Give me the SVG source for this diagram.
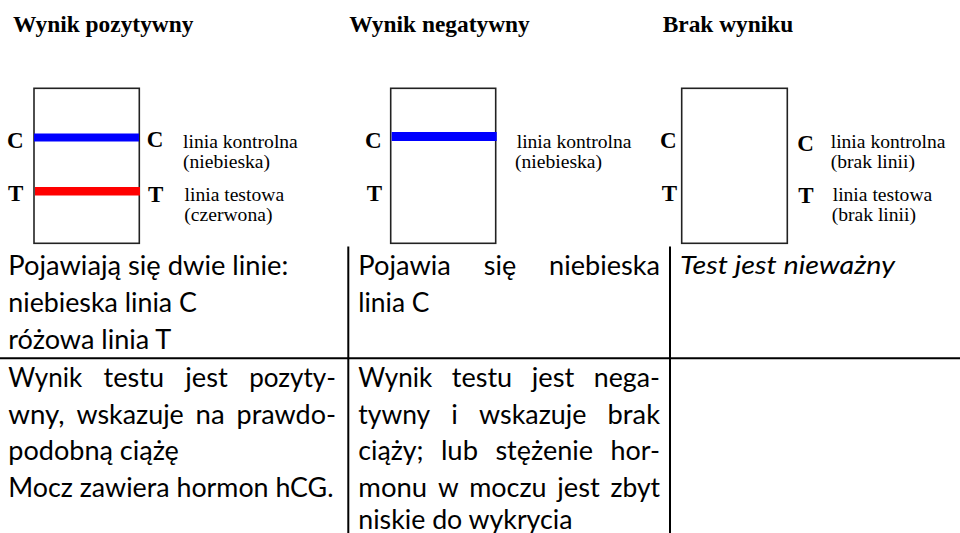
<svg xmlns="http://www.w3.org/2000/svg" width="960" height="533" viewBox="0 0 960 533">
  <style>
    .title { font-family: "Liberation Serif", "Times New Roman", serif; font-weight: bold; font-size: 23.4px; fill: #000; }
    .mark  { font-family: "Liberation Serif", "Times New Roman", serif; font-weight: bold; font-size: 23px; fill: #000; }
    .lbl   { font-family: "Liberation Serif", "Times New Roman", serif; font-size: 19.6px; fill: #000; }
    .body  { font-family: Lato, "Liberation Sans", sans-serif; font-size: 26px; fill: #000; }
    .ital  { font-style: italic; }
    .strip { fill: #fff; stroke: #222; stroke-width: 1.6; }
    .grid  { stroke: #000; stroke-width: 2; fill: none; }
  </style>
  <rect width="960" height="533" fill="#fff"/>

  <!-- Positive result: two lines -->
  <g id="positive">
    <text class="title" x="13" y="31.5">Wynik pozytywny</text>
    <rect class="strip" x="34" y="88.3" width="105.3" height="155"/>
    <rect x="34" y="133.5" width="105" height="8" fill="#0000ff"/>
    <rect x="35" y="187" width="105" height="8.5" fill="#ff0000"/>
    <text class="mark" x="7" y="148">C</text>
    <text class="mark" x="8" y="201">T</text>
    <text class="mark" x="146.7" y="147">C</text>
    <text class="mark" x="148" y="201.5">T</text>
    <text class="lbl" x="183" y="148">linia kontrolna</text>
    <text class="lbl" x="183" y="168">(niebieska)</text>
    <text class="lbl" x="184.5" y="201">linia testowa</text>
    <text class="lbl" x="184.3" y="221">(czerwona)</text>
  </g>

  <!-- Negative result: control line only -->
  <g id="negative">
    <text class="title" x="349.3" y="32">Wynik negatywny</text>
    <rect class="strip" x="390.7" y="88.3" width="105" height="155"/>
    <rect x="391.7" y="132" width="105" height="9" fill="#0000ff"/>
    <text class="mark" x="365" y="148">C</text>
    <text class="mark" x="366.7" y="201">T</text>
    <text class="lbl" x="516.7" y="148">linia kontrolna</text>
    <text class="lbl" x="515" y="168">(niebieska)</text>
  </g>

  <!-- Invalid: no lines -->
  <g id="invalid">
    <text class="title" x="662.7" y="32">Brak wyniku</text>
    <rect class="strip" x="681.7" y="88.3" width="105.6" height="155"/>
    <text class="mark" x="660" y="148">C</text>
    <text class="mark" x="661.7" y="201">T</text>
    <text class="mark" x="797.3" y="151">C</text>
    <text class="mark" x="798.3" y="203">T</text>
    <text class="lbl" x="830.7" y="148">linia kontrolna</text>
    <text class="lbl" x="830.7" y="168">(brak linii)</text>
    <text class="lbl" x="832.7" y="201">linia testowa</text>
    <text class="lbl" x="831.7" y="221">(brak linii)</text>
  </g>

  <!-- Table rules -->
  <g id="rules">
    <line class="grid" x1="348.3" y1="246.5" x2="348.3" y2="533"/>
    <line class="grid" x1="670" y1="246.5" x2="670" y2="533"/>
    <line class="grid" x1="0" y1="358.3" x2="960" y2="358.3"/>
  </g>

  <!-- Row 1: what appears -->
  <g id="row1-positive" class="body">
    <text x="8.3" y="274.5" textLength="280" lengthAdjust="spacingAndGlyphs">Pojawiają się dwie linie:</text>
    <text x="8.3" y="311.5" textLength="188.6" lengthAdjust="spacingAndGlyphs">niebieska linia C</text>
    <text x="8.3" y="348.5" textLength="163" lengthAdjust="spacingAndGlyphs">różowa linia T</text>
  </g>
  <g id="row1-negative" class="body">
    <text x="358.3" y="274.5" textLength="92.6" lengthAdjust="spacingAndGlyphs">Pojawia</text>
    <text x="483.8" y="274.5" textLength="32.4" lengthAdjust="spacingAndGlyphs">się</text>
    <text x="549" y="274.5" textLength="111" lengthAdjust="spacingAndGlyphs">niebieska</text>
    <text x="358.3" y="311.5" textLength="71.1" lengthAdjust="spacingAndGlyphs">linia C</text>
  </g>
  <g id="row1-invalid" class="body">
    <text class="ital" x="680" y="274" textLength="215" lengthAdjust="spacingAndGlyphs">Test jest nieważny</text>
  </g>

  <!-- Row 2: meaning -->
  <g id="row2-positive" class="body">
    <text x="8.3" y="387" textLength="74" lengthAdjust="spacingAndGlyphs">Wynik</text>
    <text x="103.6" y="387" textLength="60.4" lengthAdjust="spacingAndGlyphs">testu</text>
    <text x="185.3" y="387" textLength="42.6" lengthAdjust="spacingAndGlyphs">jest</text>
    <text x="249.2" y="387" textLength="86.8" lengthAdjust="spacingAndGlyphs">pozyty-</text>
    <text x="8.3" y="423.5" textLength="56.3" lengthAdjust="spacingAndGlyphs">wny,</text>
    <text x="76.4" y="423.5" textLength="107.4" lengthAdjust="spacingAndGlyphs">wskazuje</text>
    <text x="195.6" y="423.5" textLength="29.1" lengthAdjust="spacingAndGlyphs">na</text>
    <text x="236.6" y="423.5" textLength="99.4" lengthAdjust="spacingAndGlyphs">prawdo-</text>
    <text x="8.3" y="460" textLength="170.6" lengthAdjust="spacingAndGlyphs">podobną ciążę</text>
    <text x="8.3" y="496.5" textLength="325.2" lengthAdjust="spacingAndGlyphs">Mocz zawiera hormon hCG.</text>
  </g>
  <g id="row2-negative" class="body">
    <text x="358.3" y="387" textLength="74" lengthAdjust="spacingAndGlyphs">Wynik</text>
    <text x="451.8" y="387" textLength="60.4" lengthAdjust="spacingAndGlyphs">testu</text>
    <text x="531.7" y="387" textLength="42.6" lengthAdjust="spacingAndGlyphs">jest</text>
    <text x="593.8" y="387" textLength="66.1" lengthAdjust="spacingAndGlyphs">nega-</text>
    <text x="358.3" y="423.5" textLength="71.9" lengthAdjust="spacingAndGlyphs">tywny</text>
    <text x="451.3" y="423.5" textLength="6.6" lengthAdjust="spacingAndGlyphs">i</text>
    <text x="479" y="423.5" textLength="107.4" lengthAdjust="spacingAndGlyphs">wskazuje</text>
    <text x="607.6" y="423.5" textLength="52.4" lengthAdjust="spacingAndGlyphs">brak</text>
    <text x="358.3" y="460" textLength="65.2" lengthAdjust="spacingAndGlyphs">ciąży;</text>
    <text x="440.9" y="460" textLength="37.1" lengthAdjust="spacingAndGlyphs">lub</text>
    <text x="495.4" y="460" textLength="97.7" lengthAdjust="spacingAndGlyphs">stężenie</text>
    <text x="610.5" y="460" textLength="49.5" lengthAdjust="spacingAndGlyphs">hor-</text>
    <text x="358.3" y="496.5" textLength="68.9" lengthAdjust="spacingAndGlyphs">monu</text>
    <text x="437.9" y="496.5" textLength="20.7" lengthAdjust="spacingAndGlyphs">w</text>
    <text x="469.2" y="496.5" textLength="77.4" lengthAdjust="spacingAndGlyphs">moczu</text>
    <text x="557.3" y="496.5" textLength="42.6" lengthAdjust="spacingAndGlyphs">jest</text>
    <text x="610.5" y="496.5" textLength="49.5" lengthAdjust="spacingAndGlyphs">zbyt</text>
    <text x="358.3" y="529" textLength="214.2" lengthAdjust="spacingAndGlyphs">niskie do wykrycia</text>
  </g>
</svg>
